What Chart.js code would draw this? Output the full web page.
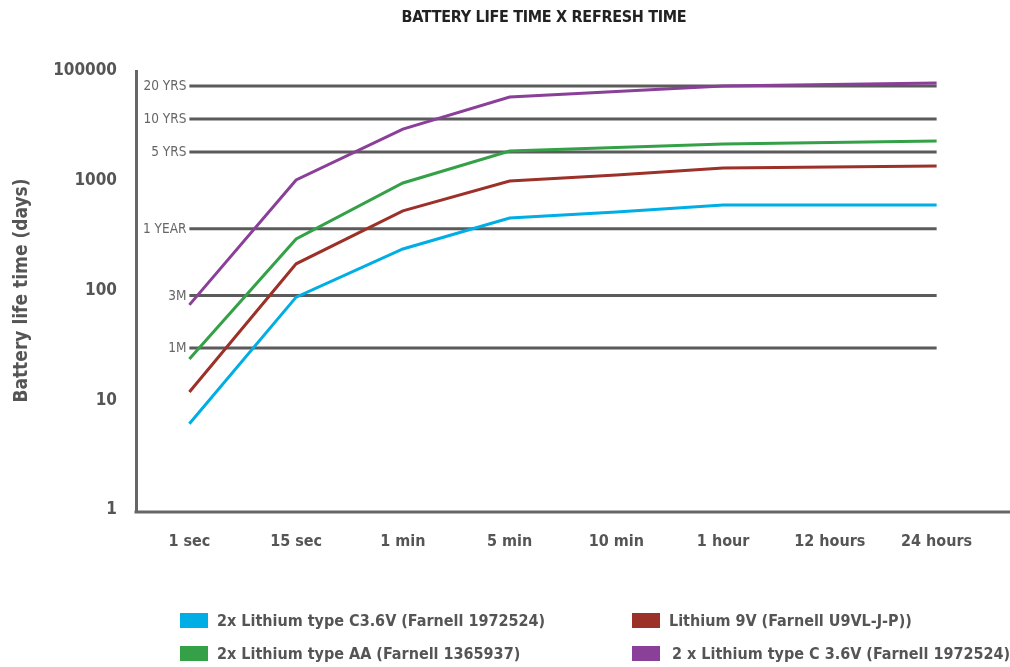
<!DOCTYPE html>
<html><head><meta charset="utf-8">
<script src="https://cdn.jsdelivr.net/npm/chart.js@4.4.0/dist/chart.umd.min.js"></script>
<style>
html,body{margin:0;padding:0;background:#fff;}
#wrap{position:relative;width:1010px;height:667px;overflow:hidden;}
#c{position:absolute;left:0;top:0;}
.title{position:absolute;top:7px;left:0;width:1088px;text-align:center;font-weight:bold;font-size:16px;font-family:"DejaVu Sans Condensed","Liberation Sans Narrow","Roboto",sans-serif;color:#222;letter-spacing:-0.3px;}
.leg{position:absolute;display:flex;align-items:center;font-weight:bold;font-size:16px;font-family:"DejaVu Sans Condensed","Liberation Sans Narrow","Roboto",sans-serif;color:#555;white-space:pre;height:20px;}
.leg .box{display:inline-block;width:28px;height:15px;margin-right:9px;}
</style>
</head><body>
<div id="wrap">
<canvas id="c" width="1010" height="667"></canvas>
<div class="title">BATTERY LIFE TIME X REFRESH TIME</div>
<div id="legend"></div>
</div>
<script>
const categories = ['1 sec','15 sec','1 min','5 min','10 min','1 hour','12 hours','24 hours'];
const seriesNames = [
  '2x Lithium type C3.6V (Farnell 1972524)',
  'Lithium 9V (Farnell U9VL-J-P))',
  '2x Lithium type AA (Farnell 1365937)',
  '2 x Lithium type C 3.6V (Farnell 1972524)'
];
const blueC36 = [6.1, 87, 239, 458, 519, 601, 601, 601];
const red9V = [11.9, 175, 531, 995, 1127, 1306, 1334, 1361];
const greenAA = [23.8, 295, 954, 1866, 2009, 2161, 2230, 2300];
const purpleC = [74, 1016, 2958, 5800, 6500, 7300, 7530, 7770];
const seriesColors = ['#00aee6', '#9b3128', '#34a047', '#8a3f98'];
const yTickValues = [1, 10, 100, 1000, 10000];
const yTickLabels = ['1', '10', '100', '1000', '100000'];
const refValues = [7300, 3650, 1825, 365, 90, 30];
const refLabels = ['20 YRS', '10 YRS', '5 YRS', '1 YEAR', '3M', '1M'];

const FONT = '"DejaVu Sans Condensed","Liberation Sans Narrow","Roboto",sans-serif';

const seriesData = [blueC36, red9V, greenAA, purpleC];
const datasets = seriesData.map((d, i) => ({
  label: seriesNames[i], data: d, borderColor: seriesColors[i], backgroundColor: seriesColors[i],
  borderWidth: 3, pointRadius: 0, tension: 0, fill: false
}));
refValues.forEach((v, i) => {
  datasets.push({
    label: refLabels[i], data: categories.map(() => v), borderColor: '#5b5b5b',
    borderWidth: 3, pointRadius: 0, tension: 0, fill: false
  });
});

const refLabelPlugin = {
  id: 'refLabels',
  afterDatasetsDraw(chart) {
    const ctx = chart.ctx, y = chart.scales.y, x = chart.scales.x, a = chart.chartArea;
    ctx.save();
    // bottom axis line, running to the right edge of the picture
    ctx.strokeStyle = '#666'; ctx.lineWidth = 3;
    ctx.beginPath(); ctx.moveTo(a.left - 1.5, a.bottom + 2);
    ctx.lineTo(chart.width, a.bottom + 2); ctx.stroke();
    ctx.font = '13.5px "DejaVu Sans Condensed","Liberation Sans Narrow",sans-serif';
    ctx.fillStyle = '#666'; ctx.textAlign = 'right'; ctx.textBaseline = 'middle';
    const xs = x.getPixelForValue(0);
    refValues.forEach((v, i) => {
      ctx.fillText(refLabels[i], xs - 3, y.getPixelForValue(v) + 0.5);
    });
    ctx.restore();
  }
};

new Chart(document.getElementById('c'), {
  type: 'line',
  data: { labels: categories, datasets },
  options: {
    responsive: false, animation: false,
    layout: { padding: { top: 71, right: 20, bottom: 97, left: 0 } },
    plugins: { legend: { display: false }, tooltip: { enabled: false }, title: { display: false } },
    scales: {
      x: {
        offset: true,
        grid: { display: false, drawTicks: false },
        border: { display: false },
        ticks: { color: '#555', font: { family: FONT, size: 16, weight: 'bold' }, padding: 22, maxRotation: 0, autoSkip: false },
        afterFit(s) { s.height = 60; }
      },
      y: {
        type: 'logarithmic', min: 1, max: 10000,
        grid: { display: false, drawTicks: false },
        border: { display: true, color: '#666', width: 3 },
        afterBuildTicks(s) { s.ticks = yTickValues.map(v => ({ value: v })); },
        ticks: {
          color: '#555', font: { family: FONT, size: 17, weight: 'bold' }, padding: 19,
          callback(v) { const i = yTickValues.indexOf(v); return i >= 0 ? yTickLabels[i] : ''; }
        },
        title: { display: true, text: 'Battery life time (days)', color: '#555',
          font: { family: FONT, size: 19, weight: 'bold' }, padding: { top: 11, bottom: 0 } },
        afterFit(s) { s.width = 136; }
      }
    }
  },
  plugins: [refLabelPlugin]
});

const legendPos = [[180, 610], [632, 610], [180, 643], [632, 643]];
const legendGap = [9, 9, 9, 12];
const lg = document.getElementById('legend');
seriesNames.forEach((name, k) => {
  const d = document.createElement('div');
  d.className = 'leg';
  d.style.left = legendPos[k][0] + 'px';
  d.style.top = legendPos[k][1] + 'px';
  const b = document.createElement('span'); b.className = 'box'; b.style.background = seriesColors[k];
  b.style.marginRight = legendGap[k] + 'px';
  const t = document.createElement('span'); t.textContent = name;
  d.appendChild(b); d.appendChild(t); lg.appendChild(d);
});
</script>
</body></html>
